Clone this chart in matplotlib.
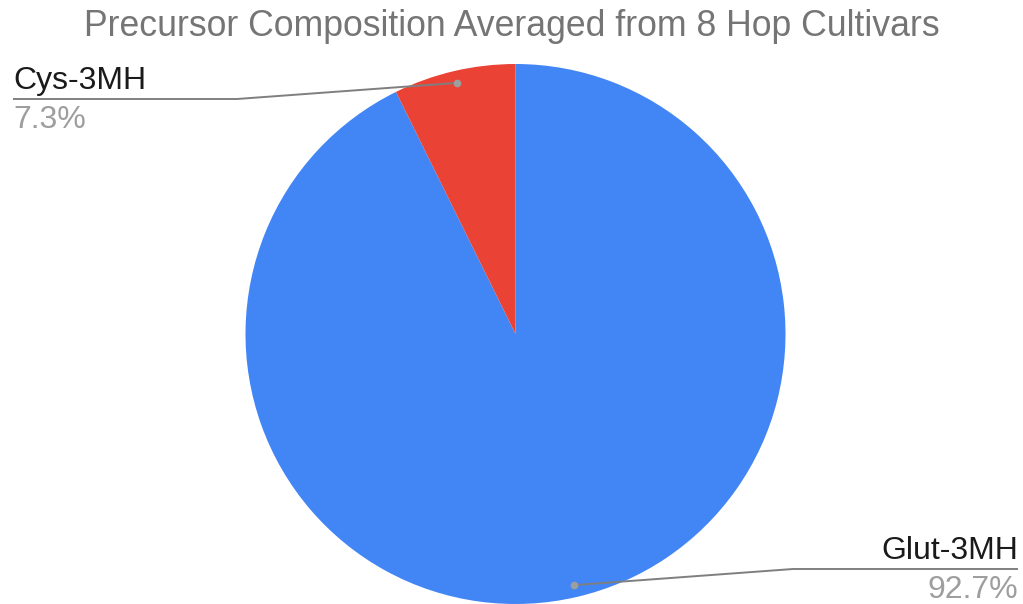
import numpy as np
import matplotlib
matplotlib.use("Agg")
import matplotlib.pyplot as plt

title = "Precursor Composition Averaged from 8 Hop Cultivars"
labels = ["Glut-3MH", "Cys-3MH"]
values = [92.7, 7.3]
colors = ["#4285F4", "#EA4335"]

W, H = 1023, 604
plt.rcParams["font.family"] = ["Liberation Sans", "DejaVu Sans"]

fig = plt.figure(figsize=(W / 100, H / 100), dpi=100)
ax = fig.add_axes([0, 0, 1, 1])

cx, cy, R = 515.5, H - 334, 270
wedges, _ = ax.pie(values, colors=colors, startangle=90, counterclock=False,
                   radius=R, center=(cx, cy), frame=True,
                   wedgeprops=dict(linewidth=0))
ax.set_xlim(0, W)
ax.set_ylim(0, H)
ax.set_aspect("equal")
ax.axis("off")

fig.text(0.5, 1 - 36 / H, title, ha="center", va="baseline",
         fontsize=25.7, color="#757575")

total = sum(values)
line_c = "#7f7f7f"
dot_c = "#9e9e9e"

# label layout: (text x, line y, kink x, alignment)
layout = {
    "Cys-3MH": dict(tx=13, ly=H - 99, kx=237, ha="left", end=13),
    "Glut-3MH": dict(tx=1018, ly=H - 569, kx=793, ha="right", end=1018),
}

for w, lab, v in zip(wedges, labels, values):
    mid = np.deg2rad((w.theta1 + w.theta2) / 2)
    dx = cx + 0.955 * R * np.cos(mid)
    dy = cy + 0.955 * R * np.sin(mid)
    L = layout[lab]
    ax.plot([L["end"], L["kx"], dx], [L["ly"], L["ly"], dy],
            color=line_c, lw=1.4, solid_capstyle="butt", zorder=3)
    ax.plot([dx], [dy], "o", ms=5.5, color=dot_c, mec="none", zorder=4)
    ax.text(L["tx"], L["ly"] + 10, lab, ha=L["ha"], va="baseline",
            fontsize=23, color="#1a1a1a")
    ax.text(L["tx"], L["ly"] - 29, f"{v / total * 100:.1f}%", ha=L["ha"],
            va="baseline", fontsize=23, color="#9e9e9e")

fig.savefig("out.png", dpi=100, facecolor="white")
